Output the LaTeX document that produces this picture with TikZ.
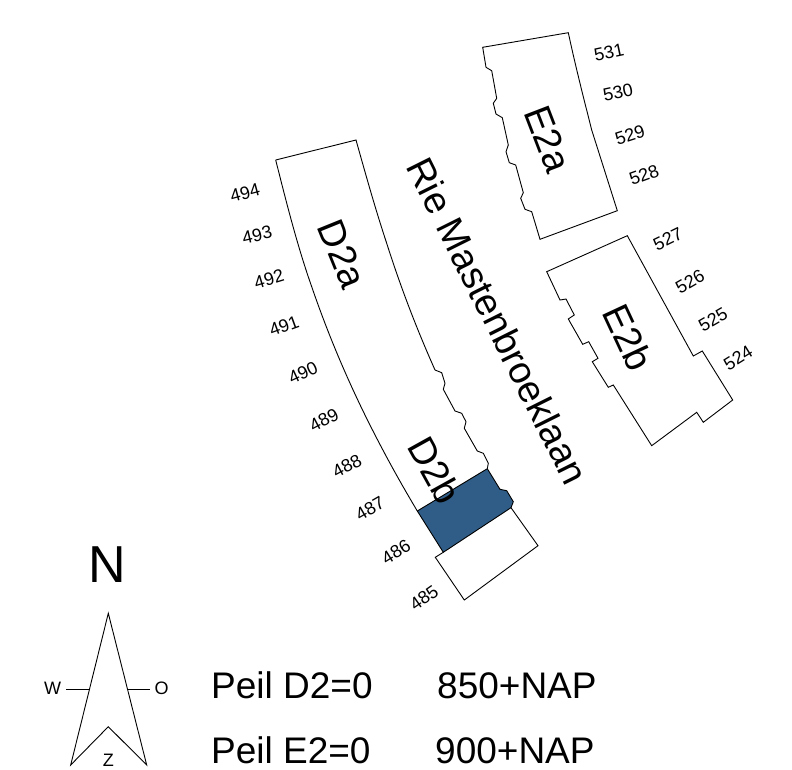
\documentclass[tikz,border=0pt]{standalone}
\usepackage{fontspec}
\setmainfont{Liberation Sans}
\definecolor{blokblauw}{HTML}{2F5D87}
\tikzset{
  huisnr/.style={font=\fontsize{18}{20}\selectfont,inner sep=0pt},
  blok/.style={font=\fontsize{38}{42}\selectfont,inner sep=0pt},
  peil/.style={font=\fontsize{37}{40}\selectfont,inner sep=0pt,anchor=base west},
  wand/.style={draw=black,line width=0.9pt,line join=miter},
}
\begin{document}
\begin{tikzpicture}[x=1pt,y=-1pt]
  \useasboundingbox (0,0) rectangle (792,770);

  \draw[wand] (275.7,160) -- (356,140) .. controls (365,172) and (375,208) .. (386.7,243.3)
    .. controls (400,285) and (415,325) .. (435,370) -- (441.7,372.7) -- (445,383.3) -- (443.3,389.3)
    -- (455,411) -- (461.7,413.3) -- (466,421.7) -- (464.3,428.3) -- (477.3,451) -- (483.3,453.3)
    -- (488.3,463.3) -- (487.3,468.7);
  \draw[wand] (275.7,160) .. controls (287,205) and (298,248) .. (311.7,286.7)
    .. controls (330,340) and (350,385) .. (368.3,421.7) .. controls (385,455) and (400,482) .. (417.3,511);
  \draw[wand,fill=blokblauw] (487.3,468.7) -- (500,489.3) -- (506.7,490.7) -- (513.3,501.7) -- (511,507.7)
    -- (443.3,552.3) -- (417.3,511) -- cycle;
  \draw[wand] (443.3,552.3) -- (435.3,557.3) -- (464.3,600) -- (538,545.7) -- (511,507.7);

  \draw[wand] (482.7,47.3) -- (568.3,32.7) .. controls (572,50) and (576,67) .. (580,83.3)
    .. controls (584,100) and (588,115) .. (591.7,130) -- (617.3,210.7) -- (540,239.3) -- (531.7,211.7)
    -- (525,209.3) -- (520.7,198.3) -- (523.3,192.7) -- (515.7,165) -- (509.3,162.7) -- (506,151.7)
    -- (508.3,145) -- (502.3,117.7) -- (496,114) -- (493.3,103.3) -- (496.7,98.3) -- (491.7,70.7)
    -- (486,67.3) -- cycle;

  \draw[wand] (546.7,271.7) -- (627.3,235.7) -- (693.3,356) -- (702.3,351) -- (732.7,400) -- (703.3,422.3)
    -- (696.7,412.3) -- (651.7,445.7) -- (613.3,385) -- (608.3,387.3) -- (592.3,361.7) -- (598,358.3)
    -- (588.7,341.7) -- (582.7,344.3) -- (568.3,319) -- (574.3,315) -- (566,299) -- (560,300) -- cycle;

  \foreach \nr/\x/\y/\hoek in {531/609/52/12,530/618/92/12,529/630/135/18,528/644/175/20,
      527/668/239/26,526/690/282/30,525/713/320/30,524/738/358/32,
      494/245/193/15,493/257/235/13,492/269/279/17,491/284/326/20,490/303/373/25,
      489/324/420/28,488/347/466/28,487/370/509/30,486/396/552/32,485/424/598/35}
    \node[huisnr,rotate=\hoek] (nr\nr) at (\x,\y) {\nr};

  \node[blok,rotate=-68] (d2a) at (342,254) {D2a};
  \node[blok,rotate=-61] (d2b) at (435,470) {D2b};
  \node[blok,rotate=-69] (e2a) at (548,139) {E2a};
  \node[blok,rotate=-65] (e2b) at (628,337) {E2b};
  \node[blok,rotate=-63.5] (straat) at (498,321) {Rie Mastenbroeklaan};

  \node[font=\fontsize{52}{56}\selectfont,inner sep=0pt] (noord) at (107.5,565) {N};
  \draw[wand] (108.3,613.3) -- (146.7,765) -- (108.3,726.7) -- (70.7,765) -- cycle;
  \node[huisnr] (west) at (52.7,688) {W};
  \node[huisnr] (oost) at (161.7,688) {O};
  \node[huisnr] (zuid) at (108.3,760) {Z};
  \coordinate (westpijl) at (89.3,689);
  \coordinate (oostpijl) at (128.3,689);
  \draw[wand] (west.east) ++(5,1) -- (westpijl);
  \draw[wand] (oostpijl) -- (150,689);

  \node[peil] (peild) at (211,698) {Peil D2=0};
  \node[peil] (peile) at (211,763.5) {Peil E2=0};
  \node[peil] (napd) at (437,698) {850+NAP};
  \node[peil] (nape) at (435,763.5) {900+NAP};
\end{tikzpicture}
\end{document}
